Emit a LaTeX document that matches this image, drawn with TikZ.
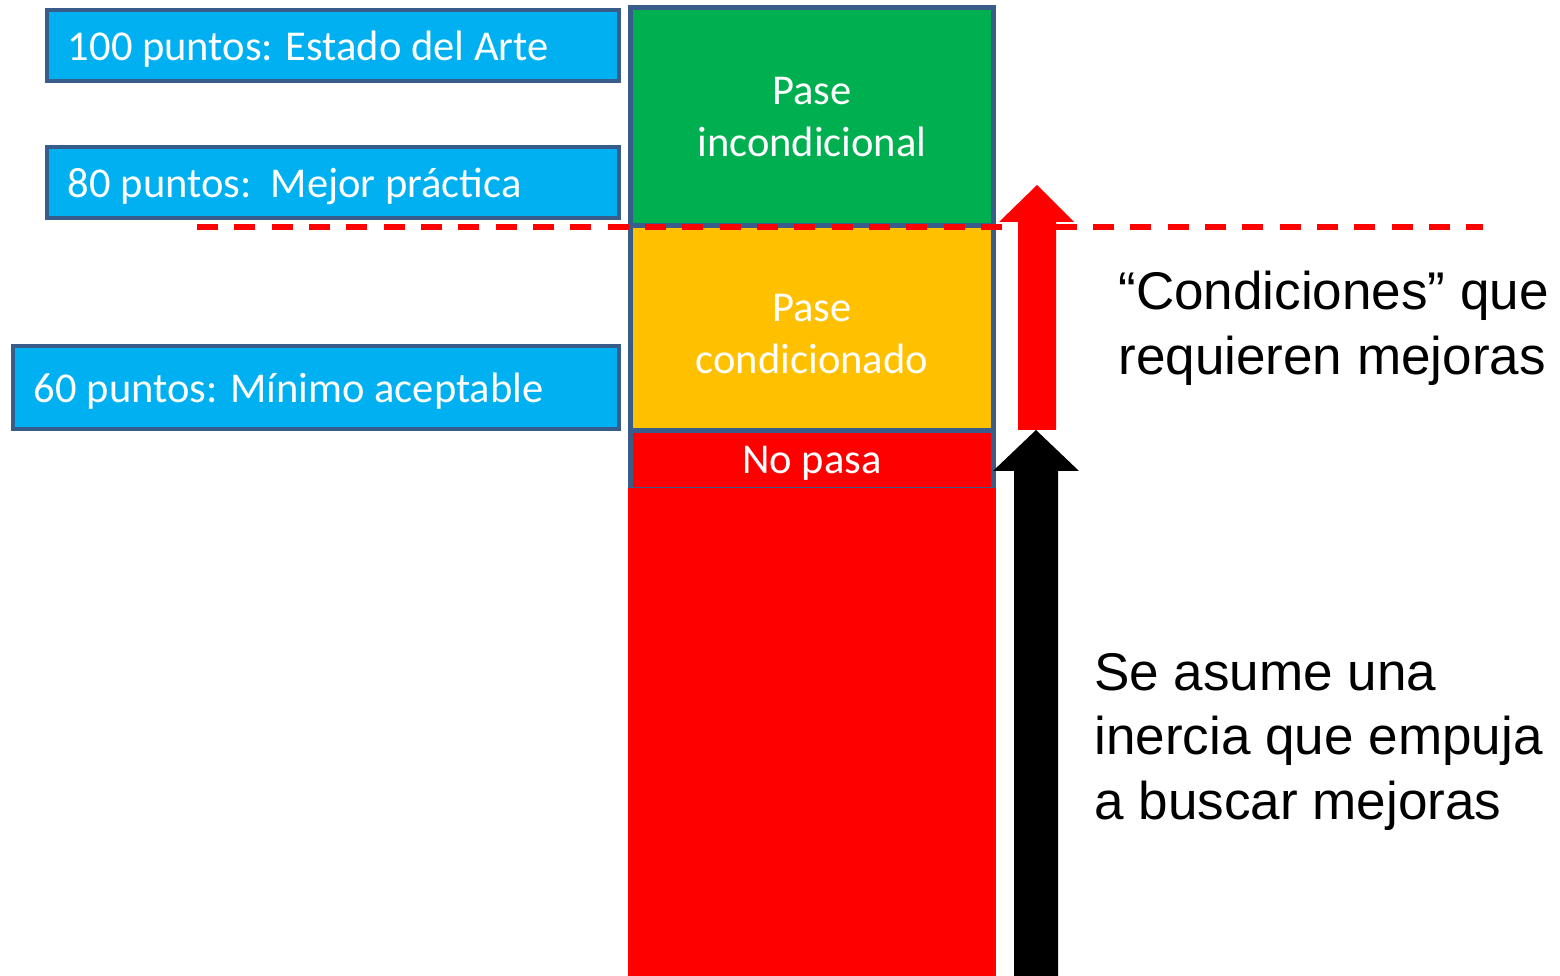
\documentclass[tikz,border=0pt]{standalone}
\usepackage{fontspec}
\setmainfont{Carlito}
\newfontfamily\arialfont{Liberation Sans}
\usetikzlibrary{positioning}
\definecolor{borde}{HTML}{385D8A}
\definecolor{celeste}{HTML}{00B0F0}
\definecolor{verde}{HTML}{00B050}
\definecolor{amarillo}{HTML}{FFC000}
\definecolor{rojo}{HTML}{FF0000}
\begin{document}
\begin{tikzpicture}[x=0.02cm,y=-0.02cm,
  puntos/.style={draw=borde,line width=2.3pt,fill=celeste,text=white,anchor=north west,outer sep=0pt,
    inner xsep=0.42cm,inner ysep=0pt,text depth=0pt,font=\fontsize{24.2}{29}\selectfont},
  celda/.style={draw=borde,line width=2.8pt,text=white,outer sep=0pt,inner sep=0pt,
    minimum width=7.26cm,align=center,font=\fontsize{24.2}{29.6}\selectfont},
  nota/.style={anchor=north west,inner sep=0pt,align=left,font=\arialfont\fontsize{30.2}{36.6}\selectfont}]
\useasboundingbox (0,0) rectangle (1560,976);
%niveles de puntaje
\node[puntos,minimum width=11.44cm,minimum height=1.42cm] (p100) at (47,10) {\makebox[10.6cm][l]{100 puntos: Estado del Arte}};
\node[puntos,minimum width=11.44cm,minimum height=1.42cm] (p80) at (47,147) {\makebox[10.6cm][l]{80 puntos:\ \ Mejor práctica}};
\node[puntos,minimum width=12.12cm,minimum height=1.66cm] (p60) at (13,346) {\makebox[11.28cm][l]{60 puntos: Mínimo aceptable}};
%columna
\node[celda,fill=verde,minimum height=4.37cm,anchor=north west] (incond) at (630.5,7.5) {Pase\\incondicional};
\node[celda,fill=amarillo,minimum height=4.09cm,below=0pt of incond] (cond) {\\[-0.28cm]Pase\\condicionado};
\node[celda,fill=rojo,minimum height=1.19cm,text depth=0pt,below=0pt of cond] (nopasa) {No pasa};
\fill[rojo] (628,488) rectangle (996,976);
%umbral
\draw[rojo,line width=2.85pt,dash pattern=on 11.95pt off 9.3pt] (197,227) -- (1483,227);
%flechas
\fill[rojo] (1018,430) -- (1018,222) -- (999,222) -- (1037,185) -- (1074,222) -- (1056,222) -- (1056,430) -- cycle;
\fill[black] (1014,976) -- (1014,471) -- (993,471) -- (1036,430) -- (1079,471) -- (1058,471) -- (1058,976) -- cycle;
%textos
\node[nota] (condiciones) at (1118,271) {“Condiciones” que\\requieren mejoras};
\node[nota] (inercia) at (1094,653) {Se asume una\\inercia que empuja\\a buscar mejoras};
\end{tikzpicture}
\end{document}
